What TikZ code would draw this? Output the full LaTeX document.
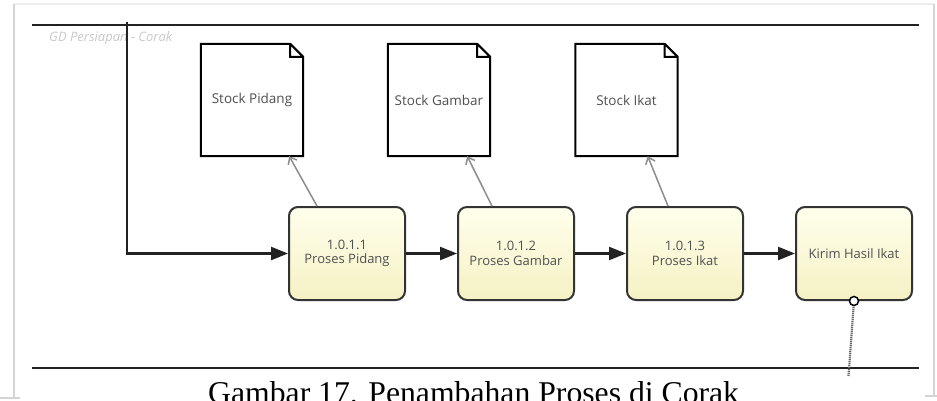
\documentclass[tikz,border=0pt]{standalone}
\usepackage{fontspec}
\setmainfont{Liberation Serif}
\newfontfamily\diagfont{Open Sans}
\usetikzlibrary{positioning,arrows.meta}
\definecolor{linegray}{RGB}{34,34,34}
\definecolor{boxborder}{RGB}{51,51,51}
\definecolor{textgray}{RGB}{80,80,80}
\definecolor{labelgray}{RGB}{200,200,200}
\definecolor{linkgray}{RGB}{140,140,140}
\definecolor{framegray}{RGB}{212,212,212}
\definecolor{frametop}{RGB}{236,236,236}
\definecolor{proctop}{RGB}{255,255,236}
\definecolor{procbottom}{RGB}{245,241,196}
\tikzset{
    % Define node styles
    procbox/.style={
        rectangle, draw=boxborder, line width=2pt,
        top color=proctop, bottom color=procbottom,
        rounded corners=9pt, minimum width=116pt, minimum height=93pt,
        align=center, text=textgray, inner sep=2pt,
        font=\diagfont\fontsize{13}{14.5}\selectfont
    },
    stockbox/.style={
        rectangle, draw=none, fill=white,
        minimum width=102pt, minimum height=112pt,
        text=textgray, font=\diagfont\fontsize{13.5}{15}\selectfont
    },
    docline/.style={
        draw=black, line width=2pt, line join=miter
    },
    flow/.style={
        -{Triangle[length=17pt,width=13pt]}, line width=2.4pt, draw=linegray
    },
    storelink/.style={
        -{Straight Barb[length=6pt,width=10pt]}, line width=1.5pt, draw=linkgray
    },
    lane/.style={
        line width=2.4pt, draw=linegray
    },
    dotlink/.style={
        line width=2.2pt, draw=gray!80!black, dash pattern=on 1.2pt off 0.8pt
    }
}
\begin{document}
\begin{tikzpicture}[x=1pt, y=-1pt]
\useasboundingbox (0,0) rectangle (937,401);

% screenshot frame
\draw[frametop, line width=1.5pt] (14,4) -- (934,4);
\draw[framegray, line width=2.2pt] (14,398) -- (14,4) (934,4) -- (934,396);
\draw[framegray, line width=2pt] (0,398) -- (20,398) (925,396) -- (937,396);

% lane
\draw[lane] (32,25) -- (919,25);
\draw[lane] (32,368) -- (919,368);
\node[anchor=west, inner sep=0, text=labelgray,
      font=\diagfont\itshape\fontsize{13}{14}\selectfont] (lanelabel) at (49,38) {GD Persiapan - Corak};

% processes
\node[procbox] (p1) at (347,253.5) {1.0.1.1\\Proses Pidang};
\node[procbox, right=51pt of p1] (p2) {1.0.1.2\\Proses Gambar};
\node[procbox, right=51pt of p2] (p3) {1.0.1.3\\Proses Ikat};
\node[procbox, right=51pt of p3] (p4) {Kirim Hasil Ikat};

% stocks
\node[stockbox] (sp) at (252,100) {Stock Pidang};
\node[stockbox] (sg) at (439,100) {Stock Gambar};
\node[stockbox] (si) at (626.5,100) {Stock Ikat};
\foreach \s in {sp,sg,si}
    \draw[docline] (\s.north west) -- ([xshift=-13pt]\s.north east) -- ([yshift=-13pt]\s.north east)
        -- (\s.south east) -- (\s.south west) -- cycle
        ([xshift=-13pt]\s.north east) |- ([yshift=-13pt]\s.north east);

% connectors
\coordinate (start) at (127,22);
\draw[flow] (start) |- (p1.west);
\draw[flow] (p1) -- (p2);
\draw[flow] (p2) -- (p3);
\draw[flow] (p3) -- (p4);

\draw[storelink] ([xshift=29pt]p1.north west) -- ([xshift=-14pt]sp.south east);
\draw[storelink] ([xshift=35pt]p2.north west) -- ([xshift=-23pt]sg.south east);
\draw[storelink] ([xshift=42pt]p3.north west) -- ([xshift=-30pt]si.south east);

\coordinate (kend) at (848.5,376);
\draw[dotlink] (p4.south) -- (kend);
\node[circle, draw=black, line width=1.5pt, fill=white, inner sep=0, minimum size=9pt] (kdot) at (p4.south) {};

% caption
\node[anchor=base west, inner sep=0, font=\fontsize{31.7}{36}\selectfont] (caption) at (208,403) {Gambar 17. Penambahan Proses di Corak};

\end{tikzpicture}
\end{document}
